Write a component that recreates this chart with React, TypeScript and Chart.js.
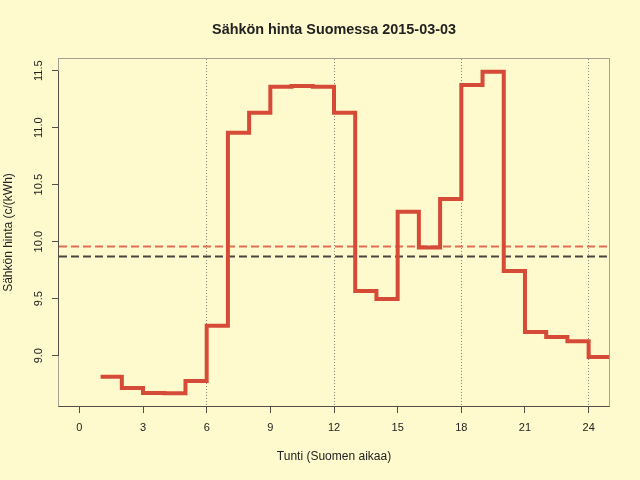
import React, { useEffect, useRef } from "react";
import { Chart, registerables } from "chart.js";

Chart.register(...registerables);

// ---- data ----
const hours = [1, 2, 3, 4, 5, 6, 7, 8, 9, 10, 11, 12, 13, 14, 15, 16, 17, 18, 19, 20, 21, 22, 23, 24];
const prices = [
  8.816, 8.717, 8.673, 8.67, 8.778, 9.263, 10.956, 11.13, 11.36, 11.365, 11.36, 11.13,
  9.568, 9.497, 10.263, 9.95, 10.374, 11.375, 11.49, 9.743, 9.208, 9.164, 9.126, 8.989,
];
const dayMean = 9.957;
const refMean = 9.871;
const xTicks = [0, 3, 6, 9, 12, 15, 18, 21, 24];
const yTicks = [9.0, 9.5, 10.0, 10.5, 11.0, 11.5];
const gridHours = [6, 12, 18, 24];
const xRange = [-0.96, 24.96];
const yRange = [8.5587, 11.6027];

const titleText = "Sähkön hinta Suomessa 2015-03-03";
const xTitle = "Tunti (Suomen aikaa)";
const yTitle = "Sähkön hinta (c/(kWh)";

// ---- styles ----
const BG = "#FFFACD";
const FONT = "'Liberation Sans', Arial, Helvetica, sans-serif";
const TEXT = "#222222";
const LINE = "#D64B37";
const MEAN_RED = "#E06C55";
const MEAN_DARK = "#4A4540";
const BOX = "#A8A090";
const AXIS = "#554D48";
const DOT = "#8A8478";

const framePlugin = {
  id: "frame",
  beforeDatasetsDraw(chart: any) {
    const { ctx, chartArea: a, scales } = chart;
    const y = scales.y;
    const L = Math.round(a.left) - 0.5;
    const R = Math.round(a.right) + 0.5;
    const T = Math.round(a.top) - 0.5;
    const B = Math.round(a.bottom) + 0.5;
    ctx.save();
    ctx.lineWidth = 1;
    ctx.strokeStyle = BOX;
    ctx.strokeRect(L, T, R - L, B - T);
    ctx.strokeStyle = AXIS;
    ctx.beginPath();
    ctx.moveTo(L, Math.round(y.getPixelForValue(yTicks[0])));
    ctx.lineTo(L, Math.round(y.getPixelForValue(yTicks[yTicks.length - 1])));
    ctx.moveTo(L, B);
    ctx.lineTo(R, B);
    ctx.stroke();
    ctx.restore();
  },
};

export default function App() {
  const ref = useRef<HTMLCanvasElement | null>(null);

  useEffect(() => {
    if (!ref.current) return;
    const stepData = hours.map((h, i) => ({ x: h, y: prices[i] }));
    stepData.push({ x: hours[hours.length - 1] + 1, y: prices[prices.length - 1] });

    const chart = new Chart(ref.current, {
      type: "line",
      data: {
        datasets: [
          {
            label: "hinta",
            data: stepData,
            stepped: true,
            borderColor: LINE,
            borderWidth: 4,
            pointRadius: 0,
            tension: 0,
            fill: false,
            borderJoinStyle: "miter",
          },
          {
            label: "päivän keskiarvo",
            data: [
              { x: xRange[0], y: dayMean },
              { x: xRange[1], y: dayMean },
            ],
            borderColor: MEAN_RED,
            borderWidth: 2,
            borderDash: [8, 4],
            pointRadius: 0,
            fill: false,
          },
          {
            label: "keskiarvo",
            data: [
              { x: xRange[0], y: refMean },
              { x: xRange[1], y: refMean },
            ],
            borderColor: MEAN_DARK,
            borderWidth: 2,
            borderDash: [8, 4],
            pointRadius: 0,
            fill: false,
          },
        ],
      },
      options: {
        animation: false,
        responsive: false,
        maintainAspectRatio: false,
        layout: { padding: { left: 0, right: 31, top: 0, bottom: 0 } },
        plugins: {
          legend: { display: false },
          tooltip: { enabled: false },
          title: {
            display: true,
            text: titleText,
            color: TEXT,
            fullSize: false,
            font: { family: FONT, size: 14.4, weight: "bold" },
            padding: { top: 21.7, bottom: 20 },
          },
        },
        scales: {
          x: {
            type: "linear",
            min: xRange[0],
            max: xRange[1],
            afterBuildTicks: (s: any) => {
              s.ticks = xTicks.map((v) => ({ value: v }));
            },
            afterFit: (s: any) => {
              s.height = 74;
            },
            ticks: {
              color: TEXT,
              font: { family: FONT, size: 11 },
              padding: 8.7,
              maxRotation: 0,
              minRotation: 0,
              autoSkip: false,
              callback: (v: any) => String(v),
            },
            grid: {
              display: true,
              drawOnChartArea: true,
              drawTicks: true,
              tickLength: 7,
              tickColor: AXIS,
              tickWidth: 1,
              lineWidth: 1,
              color: (c: any) =>
                c.tick && gridHours.includes(c.tick.value) ? DOT : "rgba(0,0,0,0)",
            },
            border: { display: false, dash: [1, 2] },
            title: {
              display: true,
              text: xTitle,
              color: TEXT,
              font: { family: FONT, size: 12 },
              padding: { top: 0, bottom: 16 },
            },
          },
          y: {
            type: "linear",
            min: yRange[0],
            max: yRange[1],
            afterBuildTicks: (s: any) => {
              s.ticks = yTicks.map((v) => ({ value: v }));
            },
            afterFit: (s: any) => {
              s.width = 59;
            },
            ticks: {
              color: TEXT,
              font: { family: FONT, size: 11 },
              padding: 2.4,
              minRotation: 90,
              maxRotation: 90,
              crossAlign: "center",
              autoSkip: false,
              callback: (v: any) => Number(v).toFixed(1),
            },
            grid: {
              display: true,
              drawOnChartArea: false,
              drawTicks: true,
              tickLength: 7,
              tickColor: AXIS,
              tickWidth: 1,
            },
            border: { display: false },
            title: {
              display: true,
              text: yTitle,
              color: TEXT,
              font: { family: FONT, size: 12 },
              padding: { top: 1.9, bottom: 0 },
            },
          },
        },
      },
      plugins: [framePlugin],
    } as any);

    return () => chart.destroy();
  }, []);

  return (
    <div
      style={{
        position: "absolute",
        left: 0,
        top: 0,
        width: 640,
        height: 480,
        background: BG,
      }}
    >
      <canvas ref={ref} width={640} height={480} style={{ width: 640, height: 480, display: "block" }} />
    </div>
  );
}
